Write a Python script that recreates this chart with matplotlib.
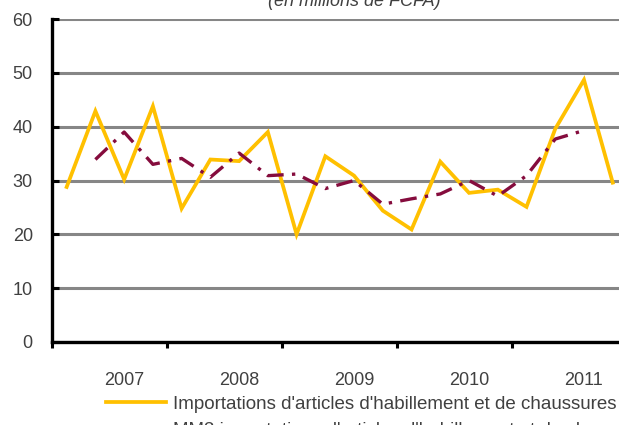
import numpy as np
import matplotlib
matplotlib.use('Agg')
import matplotlib.pyplot as plt

plt.rcParams['font.family'] = ['Liberation Sans', 'DejaVu Sans']

# Trimestres (20 points), étiquettes d'années
annees = ['2007', '2008', '2009', '2010', '2011']
importations = [28.8, 42.9, 30.2, 43.8, 24.8, 33.9, 33.6, 39.0, 20.0, 34.5,
                30.9, 24.4, 20.9, 33.5, 27.7, 28.3, 25.1, 39.6, 48.7, 29.6]
# moyenne mobile sur 3 trimestres (premier et dernier point absents)
mm3 = [np.nan, 33.9, 39.0, 33.0, 34.1, 30.6, 35.1, 30.9, 31.2, 28.5,
       30.0, 25.6, 26.6, 27.5, 30.0, 27.1, 30.9, 37.7, 39.3, np.nan]

jaune = '#FFC000'
bordeaux = '#850C3D'
gris_texte = '#404040'

n = len(importations)
x = np.arange(n)

fig = plt.figure(figsize=(6.19, 4.25), dpi=100)
ax = fig.add_axes([52.3 / 619, 83 / 425, 20 * 28.74 / 619, 323 / 425])

l1, = ax.plot(x, importations, color=jaune, lw=2.7, solid_joinstyle='miter',
              label="Importations d'articles d'habillement et de chaussures")
l2, = ax.plot(x, mm3, color=bordeaux, lw=2.4, dashes=(5, 2.5, 1, 2.5),
              label="MM3 importations d'articles d'habillement et de chaussures")

ax.set_xlim(-0.5, n - 0.5)
ax.set_ylim(0, 60)
ax.set_yticks(range(0, 61, 10))
ax.yaxis.grid(True, color='#868686', lw=2.2)
ax.set_axisbelow(True)

for s in ['top', 'right']:
    ax.spines[s].set_visible(False)
for s in ['left', 'bottom']:
    ax.spines[s].set_linewidth(2.4)
    ax.spines[s].set_color('black')

ax.tick_params(axis='y', direction='in', length=5, width=2.2, color='black',
               pad=14, labelsize=13, labelcolor=gris_texte)

# graduations entre les années, étiquettes au 3e trimestre
ax.set_xticks(np.arange(-0.5, n, 4))
ax.set_xticklabels([])
ax.set_xticks(np.arange(2, n, 4), minor=True)
ax.set_xticklabels(annees, minor=True)
ax.tick_params(axis='x', which='major', direction='out', length=4, width=2.2)
ax.tick_params(axis='x', which='minor', length=0, pad=21.5, labelsize=13,
               labelcolor=gris_texte)

fig.text(354 / 619, 1 - 6 / 425, '(en millions de FCFA)', style='italic',
         ha='center', va='baseline', fontsize=13, color=gris_texte)

fig.legend(handles=[l1, l2], loc='upper left', bbox_to_anchor=(106 / 619, 1 - 395.5 / 425),
           frameon=False, fontsize=13.5, labelcolor=gris_texte,
           handlelength=3.2, handletextpad=0.38, labelspacing=0.48, borderpad=0,
           borderaxespad=0)

fig.savefig('out.png', dpi=100)
